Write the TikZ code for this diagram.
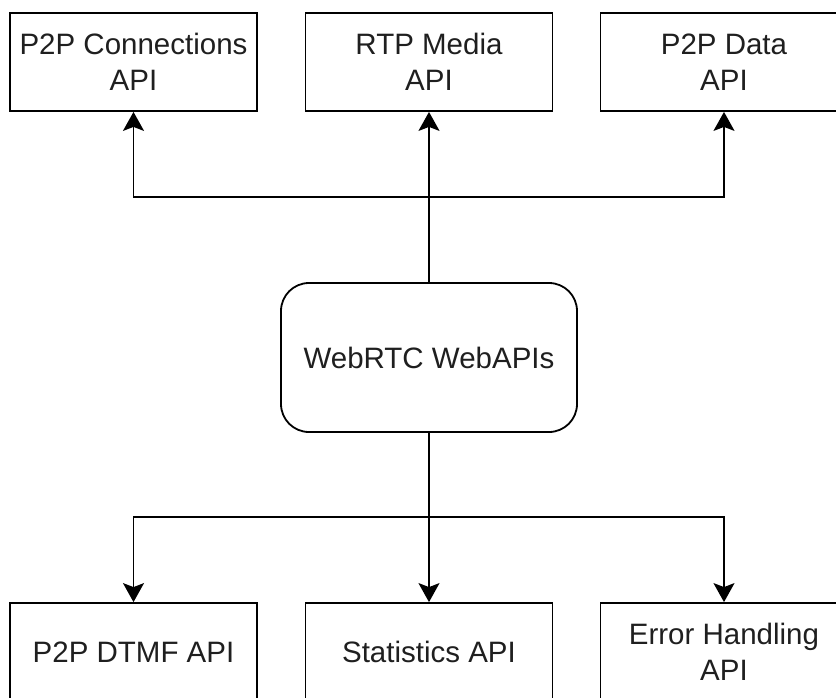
\documentclass[tikz,border=0pt]{standalone}
\usepackage{fontspec}
\setmainfont{Liberation Sans}
\usetikzlibrary{arrows.meta}
\begin{document}
\begin{tikzpicture}[x=1pt,y=-1pt,
  apibox/.style={draw=black, line width=1.8pt, minimum width=247pt, minimum height=98pt,
    align=center, inner sep=0pt, text=black!88, font=\fontsize{29.5}{36}\selectfont},
  hub/.style={apibox, rounded corners=28pt, minimum width=296pt, minimum height=149pt},
  link/.style={line width=1.8pt, -{Stealth[length=19pt,width=21pt,inset=4pt]}}]
\useasboundingbox (0,0) rectangle (836,697);
\clip (0,0) rectangle (836,697);
% top row
\node[apibox] (conn) at (133.5,62) {P2P Connections\\API};
\node[apibox] (rtp)  at (429,62)   {RTP Media\\API};
\node[apibox] (data) at (724,62)   {P2P Data\\API};
% central node
\node[hub] (webrtc) at (429,357.5) {WebRTC WebAPIs};
% bottom row
\node[apibox] (dtmf) at (133.5,652) {P2P DTMF API};
\node[apibox] (stats) at (429,652)  {Statistics API};
\node[apibox] (err)  at (724,652)   {Error Handling\\API};
% junction levels
\coordinate (jt) at (429,197);
\coordinate (jb) at (429,517);
% upward connectors
\draw[link] (webrtc.north) -- (rtp.south);
\draw[link] (webrtc.north) -- (jt) -| (conn.south);
\draw[link] (webrtc.north) -- (jt) -| (data.south);
% downward connectors
\draw[link] (webrtc.south) -- (stats.north);
\draw[link] (webrtc.south) -- (jb) -| (dtmf.north);
\draw[link] (webrtc.south) -- (jb) -| (err.north);
\end{tikzpicture}
\end{document}
